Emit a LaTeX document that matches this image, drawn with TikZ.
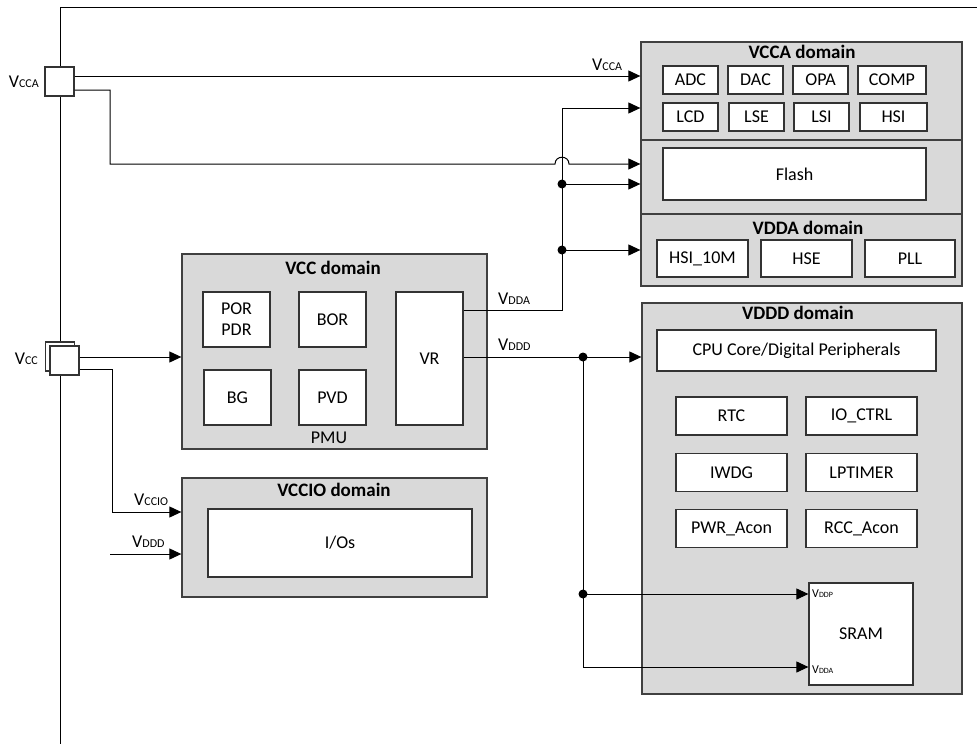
\documentclass[tikz,border=0pt]{standalone}
\usepackage{fontspec}
\setmainfont{Carlito}
\usetikzlibrary{arrows.meta}

\newcommand{\vrail}[1]{V{\fontsize{12}{12}\selectfont #1}}
\newcommand{\vpin}[1]{{\fontsize{12}{12}\selectfont V{\fontsize{8}{8}\selectfont #1}}}

\begin{document}
\begin{tikzpicture}[x=1pt,y=-1pt,
	every node/.style={font=\fontsize{18}{21}\selectfont},
	dom/.style={draw=black!75, line width=1.3pt, fill=black!15, inner sep=0pt},
	blk/.style={draw=black!80, line width=1.2pt, fill=white, inner sep=0pt, align=center},
	sub/.style={blk, minimum width=55pt, minimum height=28pt},
	ttl/.style={font=\fontsize{19}{22}\selectfont\bfseries, inner sep=0pt},
	pad/.style={draw=black!80, line width=1.2pt, fill=white, minimum size=29pt, inner sep=0pt},
	lab/.style={inner sep=0pt},
	wire/.style={line width=1pt},
	pwr/.style={line width=1pt, -{Triangle[length=12pt,width=11pt]}},
	jdot/.style={circle, fill, inner sep=0pt, minimum size=9pt}]

	\useasboundingbox (0,0) rectangle (977,744);

	% frame
	\draw[wire] (60,744) -- (60,7) -- (977,7);

	% pads
	\node[pad] (vccapad) at (59.5,81.5) {};
	\node[pad] (vccback) at (60,356.5) {};
	\node[pad] (vccpad) at (64.5,360.5) {};
	\node[lab, anchor=base east] (lvccapin) at (39,87) {\vrail{CCA}};
	\node[lab, anchor=base east] (lvccpin) at (38,364) {\vrail{CC}};

	% VCCA domain
	\node[dom, minimum width=321pt, minimum height=98pt] (vccadom) at (801.5,91) {};
	\node[dom, minimum width=321pt, minimum height=74pt] (flashdom) at (801.5,177) {};
	\node[dom, minimum width=321pt, minimum height=72pt] (vddadom) at (801.5,250) {};
	\node[ttl] (tvcca) at (802,52) {VCCA domain};
	\node[sub] (adc) at (690.5,80) {ADC};
	\node[sub] (dac) at (755.5,80) {DAC};
	\node[sub] (opa) at (820.5,80) {OPA};
	\node[sub, minimum width=68pt] (comp) at (892,80) {COMP};
	\node[sub] (lcd) at (690.5,117) {LCD};
	\node[sub] (lse) at (756.5,117) {LSE};
	\node[sub] (lsi) at (821.5,117) {LSI};
	\node[sub, minimum width=67pt] (hsi) at (893.5,117) {HSI};
	\node[blk, minimum width=263pt, minimum height=52pt] (flash) at (794.5,174) {Flash};

	% VDDA domain
	\node[ttl] (tvdda) at (808,228) {VDDA domain};
	\node[blk, minimum width=91pt, minimum height=37pt] (hsiten) at (702.5,258.5) {HSI\_10M};
	\node[blk, minimum width=91pt, minimum height=37pt] (hse) at (806.5,258.5) {HSE};
	\node[blk, minimum width=90pt, minimum height=37pt] (pll) at (910,258.5) {PLL};

	% VDDD domain
	\node[dom, minimum width=320pt, minimum height=391pt] (vddddom) at (802,498.5) {};
	\node[ttl] (tvddd) at (798,313) {VDDD domain};
	\node[blk, minimum width=279pt, minimum height=41pt] (cpu) at (796.5,350.5) {CPU Core/Digital Peripherals};
	\node[blk, minimum width=111pt, minimum height=38pt] (rtc) at (731.5,416) {RTC};
	\node[blk, minimum width=111pt, minimum height=38pt] (ioctrl) at (861.5,416) {IO\_CTRL};
	\node[blk, minimum width=111pt, minimum height=38pt] (iwdg) at (731.5,472.5) {IWDG};
	\node[blk, minimum width=111pt, minimum height=38pt] (lptim) at (861.5,472.5) {LPTIMER};
	\node[blk, minimum width=111pt, minimum height=38pt] (pwracon) at (731.5,528.5) {PWR\_Acon};
	\node[blk, minimum width=111pt, minimum height=38pt] (rccacon) at (861.5,528.5) {RCC\_Acon};
	\node[blk, minimum width=104pt, minimum height=102pt] (sram) at (861,634) {SRAM};
	\node[lab, anchor=base west] (lvddp) at (812,597) {\vpin{DDP}};
	\node[lab, anchor=base west] (lvddasram) at (812,673) {\vpin{DDA}};

	% VCC domain
	\node[dom, minimum width=305pt, minimum height=195pt] (vccdom) at (334.5,351.5) {};
	\node[ttl] (tvcc) at (333,268) {VCC domain};
	\node[blk, minimum width=67pt, minimum height=55pt] (por) at (236.5,319.5) {POR\\PDR};
	\node[blk, minimum width=67pt, minimum height=55pt] (bor) at (332.5,319.5) {BOR};
	\node[blk, minimum width=67pt, minimum height=55pt] (bg) at (237.5,397.5) {BG};
	\node[blk, minimum width=67pt, minimum height=55pt] (pvd) at (332.5,397.5) {PVD};
	\node[blk, minimum width=67pt, minimum height=133pt] (vr) at (429.5,358.5) {VR};
	\node[lab] (pmu) at (329,438) {PMU};

	% VCCIO domain
	\node[dom, minimum width=305pt, minimum height=119pt] (vcciodom) at (334.5,537.5) {};
	\node[ttl] (tvccio) at (334,490) {VCCIO domain};
	\node[blk, minimum width=264pt, minimum height=68pt] (ios) at (340,543) {I/Os};

	% junctions
	\coordinate (bend1) at (110,164);
	\coordinate (hopl) at (555,164);
	\coordinate (hopr) at (569,164);
	\coordinate (hopc1) at (555,155);
	\coordinate (hopc2) at (569,155);
	\coordinate (jvdda) at (562,310);
	\coordinate (jtop) at (562,108);
	\node[jdot] (dflash) at (562,184) {};
	\node[jdot] (dpll) at (562,250) {};
	\node[jdot] (dcore) at (583,357) {};
	\node[jdot] (dsram) at (583,594) {};
	\coordinate (jlow) at (583,667);
	\coordinate (bend2) at (112,512);
	\coordinate (vdddin) at (110,554);

	% VCCA wires
	\draw[pwr] ([yshift=5.5pt]vccapad.east) -- ([yshift=5.5pt]vccapad.east -| vccadom.west);
	\draw[pwr] ([yshift=-8.5pt]vccapad.east) -| (bend1) -- (hopl)
		.. controls (hopc1) and (hopc2) .. (hopr) -- (hopr -| flashdom.west);

	% VDDA wires
	\draw[pwr] (vr.east |- jvdda) -- (jvdda) -- (jtop) -- (jtop -| vccadom.west);
	\draw[pwr] (dflash.center) -- (dflash -| flashdom.west);
	\draw[pwr] (dpll.center) -- (dpll -| vddadom.west);

	% VDDD wires
	\draw[pwr] (vr.east |- dcore) -- (dcore -| vddddom.west);
	\draw[pwr] (dcore.center) -- (jlow) -- (jlow -| sram.west);
	\draw[pwr] (dsram.center) -- (dsram -| sram.west);

	% VCC wires
	\draw[pwr] ([yshift=3.5pt]vccpad.east) -- ([yshift=3.5pt]vccpad.east -| vccdom.west);
	\draw[pwr] ([yshift=-8.5pt]vccpad.east) -| (bend2) -- (bend2 -| vcciodom.west);
	\draw[pwr] (vdddin) -- (vdddin -| vcciodom.west);

	% rail labels
	\node[lab, anchor=base west] (lvcca) at (592,70) {\vrail{CCA}};
	\node[lab, anchor=base west] (lvdda) at (498,304) {\vrail{DDA}};
	\node[lab, anchor=base west] (lvddd) at (498,350) {\vrail{DDD}};
	\node[lab, anchor=base west] (lvccio) at (134,505) {\vrail{CCIO}};
	\node[lab, anchor=base west] (lvdddio) at (132,547) {\vrail{DDD}};

\end{tikzpicture}
\end{document}
